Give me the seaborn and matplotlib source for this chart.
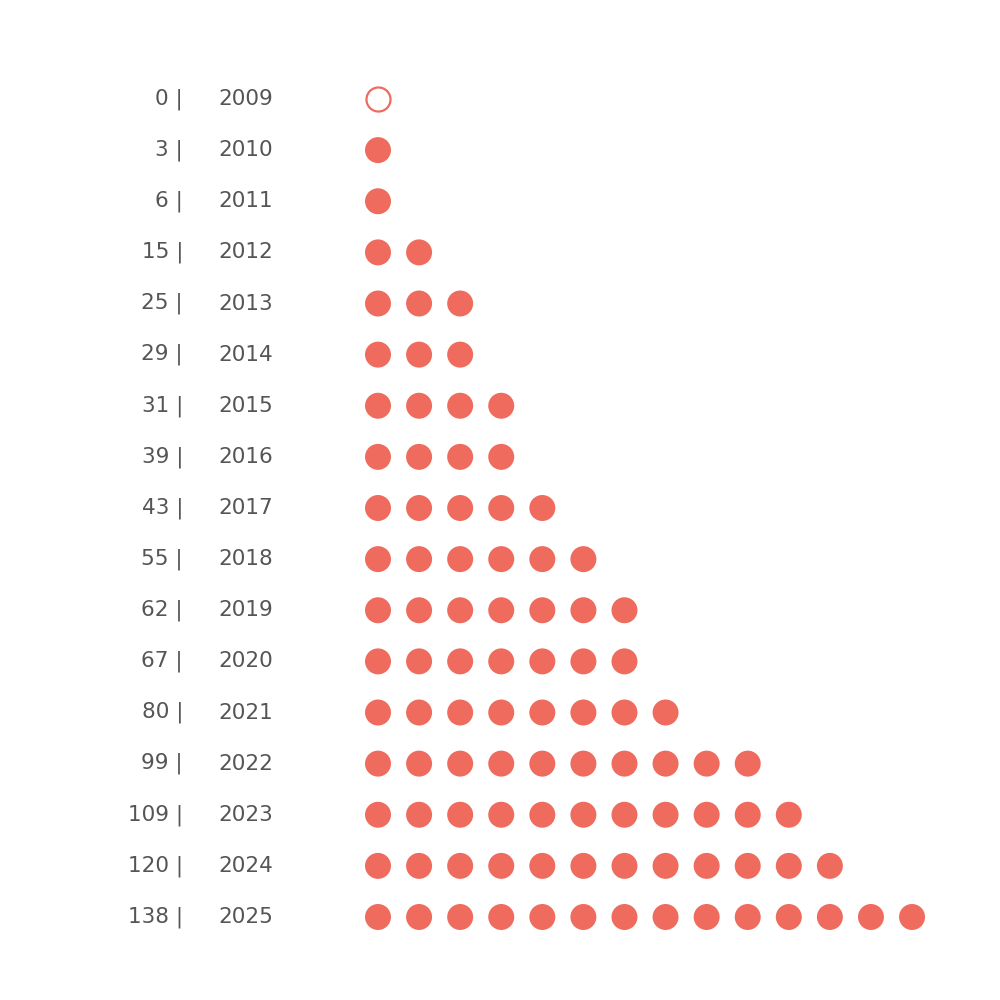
import matplotlib
matplotlib.use("Agg")
import matplotlib.pyplot as plt
import seaborn as sns
import pandas as pd

years = [2009, 2010, 2011, 2012, 2013, 2014, 2015, 2016, 2017,
         2018, 2019, 2020, 2021, 2022, 2023, 2024, 2025]
values = [0, 3, 6, 15, 25, 29, 31, 39, 43, 55, 62, 67, 80, 99, 109, 120, 138]
dot_counts = [0, 1, 1, 2, 3, 3, 4, 4, 5, 6, 7, 7, 8, 10, 11, 12, 14]

DOT = "#EE6B5E"
TXT = "#555555"

sns.set_theme(style="white")
plt.rcParams['font.family'] = ['DejaVu Sans']

rows = []
for r, (y, n) in enumerate(zip(years, dot_counts)):
    for i in range(n):
        rows.append({"idx": i, "row": r})
df = pd.DataFrame(rows)
empty = pd.DataFrame({"idx": [0 for r, n in enumerate(dot_counts) if n == 0],
                      "row": [r for r, n in enumerate(dot_counts) if n == 0]})

fig = plt.figure(figsize=(10, 10), dpi=100)
ax = fig.add_axes([0, 0, 1, 1])

sns.scatterplot(data=df, x="idx", y="row", ax=ax, s=350, color=DOT,
                edgecolor="none", linewidth=0, legend=False)
sns.scatterplot(data=empty, x="idx", y="row", ax=ax, s=300, color="white",
                edgecolor=DOT, linewidth=1.6, legend=False)

ux = 41.08
uy = 51.125
ax.set_xlim(-378 / ux, (1000 - 378) / ux)
ax.set_ylim((1000 - 99) / uy, -99 / uy)
ax.axis("off")

for r, (y, v) in enumerate(zip(years, values)):
    ax.text(-195 / ux, r, f"{v} |", ha="right", va="center",
            fontsize=15.5, color=TXT)
    ax.text(-160 / ux, r, str(y), ha="left", va="center",
            fontsize=15.5, color=TXT)

fig.savefig("out.png", dpi=100, facecolor="white")
